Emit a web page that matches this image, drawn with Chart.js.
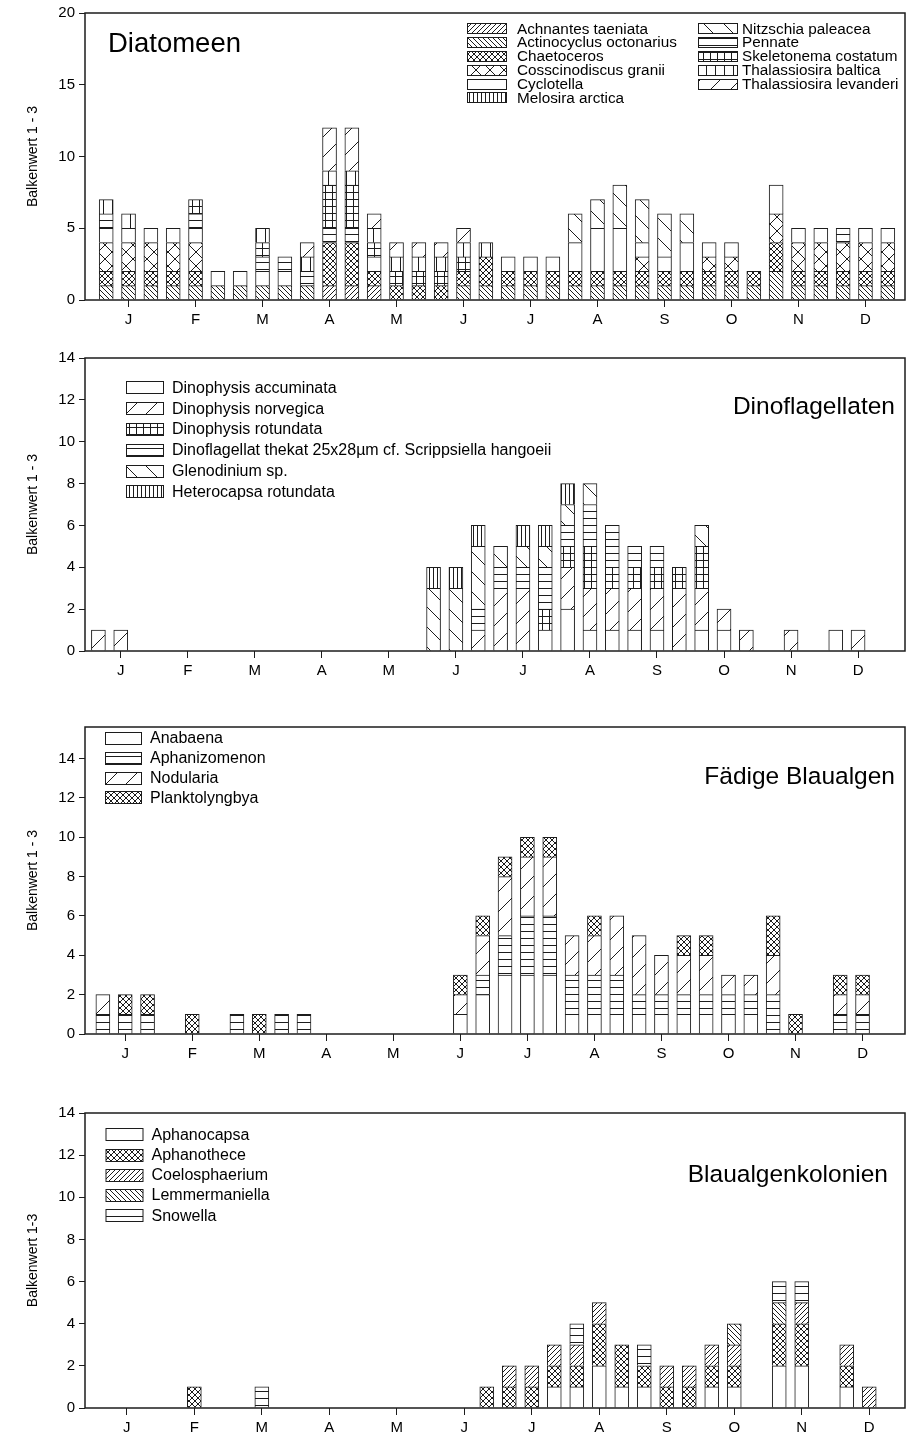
<!DOCTYPE html>
<html>
<head>
<meta charset="utf-8">
<script src="https://cdn.jsdelivr.net/npm/chart.js@4.4.1/dist/chart.umd.min.js"></script>
<style>
  html, body { margin: 0; padding: 0; background: #fff; }
  #wrap { position: relative; width: 906px; height: 1441px; }
  .panel { position: absolute; left: 0; width: 906px; }
</style>
</head>
<body>
<div id="wrap">
  <div class="panel" style="top:0;height:340px"><canvas id="diatomeen"></canvas></div>
  <div class="panel" style="top:340px;height:350px"><canvas id="dino"></canvas></div>
  <div class="panel" style="top:690px;height:390px"><canvas id="faedig"></canvas></div>
  <div class="panel" style="top:1080px;height:361px"><canvas id="kolonien"></canvas></div>
</div>
<script>
// 36 sampling slots per year, three per month; month letter sits on the middle slot
const months = ['J', 'F', 'M', 'A', 'M', 'J', 'J', 'A', 'S', 'O', 'N', 'D'];
const monthTicks = [1, 4, 7, 10, 13, 16, 19, 22, 25, 28, 31, 34];
const slots = Array.from({ length: 36 }, (_, i) => i);

// --- Diatomeen ---
const achnantes      = [0,0,0,0,0,0,0,0,0,0,1,1,1,0,0,0,0,0,0,0,0,0,0,0,0,0,0,0,0,0,0,0,0,0,0,0];
const actinocyclus   = [1,1,1,1,1,1,1,1,1,1,0,0,0,0,0,0,1,1,1,1,1,1,1,1,1,1,1,1,1,1,2,1,1,1,1,1];
const chaetoceros    = [1,1,1,1,1,0,0,0,0,0,3,3,1,1,1,1,1,2,1,1,1,1,1,1,1,1,1,1,1,1,2,1,1,1,1,1];
const cosscinodiscus = [2,2,2,2,2,0,0,0,0,0,0,0,0,0,0,0,0,0,0,0,0,0,0,0,1,0,0,1,1,0,2,2,2,2,2,2];
const cyclotella     = [1,1,1,1,1,1,1,1,1,0,0,0,1,0,0,0,0,0,1,1,1,2,3,3,1,1,2,1,1,0,2,1,1,0,1,1];
const melosira       = [0,0,0,0,0,0,0,0,0,0,0,0,0,0,0,0,0,0,0,0,0,0,0,0,0,0,0,0,0,0,0,0,0,0,0,0];
const nitzschia      = [0,0,0,0,0,0,0,0,0,0,0,0,0,0,0,0,0,0,0,0,0,2,2,3,3,3,2,0,0,0,0,0,0,0,0,0];
const pennate        = [1,0,0,0,1,0,0,1,1,1,1,1,0,0,0,0,0,0,0,0,0,0,0,0,0,0,0,0,0,0,0,0,0,1,0,0];
const skeletonema    = [0,0,0,0,1,0,0,1,0,0,3,3,1,1,1,1,1,0,0,0,0,0,0,0,0,0,0,0,0,0,0,0,0,0,0,0];
const thBaltica      = [1,1,0,0,0,0,0,1,0,1,1,1,1,1,1,1,1,1,0,0,0,0,0,0,0,0,0,0,0,0,0,0,0,0,0,0];
const thLevanderi    = [0,0,0,0,0,0,0,0,0,1,3,3,1,1,1,1,1,0,0,0,0,0,0,0,0,0,0,0,0,0,0,0,0,0,0,0];

// --- Dinoflagellaten ---
const dAccuminata = [0,0,0,0,0,0,0,0,0,0,0,0,0,0,0,0,0,0,0,0,1,2,1,1,1,1,0,1,1,0,0,0,0,1,0,0];
const dNorvegica  = [1,1,0,0,0,0,0,0,0,0,0,0,0,0,0,0,0,1,3,3,0,2,2,2,2,2,3,2,1,1,0,1,0,0,1,0];
const dRotundata  = [0,0,0,0,0,0,0,0,0,0,0,0,0,0,0,0,0,0,0,0,1,1,2,1,1,1,1,2,0,0,0,0,0,0,0,0];
const thekat      = [0,0,0,0,0,0,0,0,0,0,0,0,0,0,0,0,0,1,1,1,2,1,2,2,1,1,0,0,0,0,0,0,0,0,0,0];
const glenodinium = [0,0,0,0,0,0,0,0,0,0,0,0,0,0,0,3,3,3,1,1,1,1,1,0,0,0,0,1,0,0,0,0,0,0,0,0];
const heterocapsa = [0,0,0,0,0,0,0,0,0,0,0,0,0,0,0,1,1,1,0,1,1,1,0,0,0,0,0,0,0,0,0,0,0,0,0,0];

// --- Fädige Blaualgen ---
const anabaena       = [0,0,0,0,0,0,0,0,0,0,0,0,0,0,0,0,1,2,3,3,3,1,1,1,1,1,1,1,1,1,0,0,0,0,0,0];
const aphanizomenon  = [1,1,1,0,0,0,1,0,1,1,0,0,0,0,0,0,0,1,2,3,3,2,2,2,1,1,1,1,1,1,2,0,0,1,1,0];
const nodularia      = [1,0,0,0,0,0,0,0,0,0,0,0,0,0,0,0,1,2,3,3,3,2,2,3,3,2,2,2,1,1,2,0,0,1,1,0];
const planktolyngbya = [0,1,1,0,1,0,0,1,0,0,0,0,0,0,0,0,1,1,1,1,1,0,1,0,0,0,1,1,0,0,2,1,0,1,1,0];

// --- Blaualgenkolonien ---
const aphanocapsa    = [0,0,0,0,0,0,0,0,0,0,0,0,0,0,0,0,0,0,0,0,1,1,2,1,1,0,0,1,1,0,2,2,0,1,0,0];
const aphanothece    = [0,0,0,0,1,0,0,0,0,0,0,0,0,0,0,0,0,1,1,1,1,1,2,2,1,1,1,1,1,0,2,2,0,1,0,0];
const coelosphaerium = [0,0,0,0,0,0,0,0,0,0,0,0,0,0,0,0,0,0,1,1,1,1,1,0,0,1,1,1,1,0,0,1,0,1,1,0];
const lemmermaniella = [0,0,0,0,0,0,0,0,0,0,0,0,0,0,0,0,0,0,0,0,0,0,0,0,0,0,0,0,1,0,1,0,0,0,0,0];
const snowella       = [0,0,0,0,0,0,0,1,0,0,0,0,0,0,0,0,0,0,0,0,0,1,0,0,1,0,0,0,0,0,1,1,0,0,0,0];

const INK = '#1c1c1c';
const FONT = '"Liberation Sans", Arial, Helvetica, sans-serif';

// hatch fills as repeating canvas patterns
function tile(size, draw) {
  const c = document.createElement('canvas');
  c.width = size; c.height = size;
  const g = c.getContext('2d');
  g.fillStyle = '#fff';
  g.fillRect(0, 0, size, size);
  g.strokeStyle = INK; g.fillStyle = INK; g.lineWidth = 1;
  draw(g, size);
  return g.createPattern(c, 'repeat');
}
function slash(g, s) {
  g.beginPath();
  g.moveTo(-1, s + 1); g.lineTo(s + 1, -1);
  g.moveTo(-1, 1); g.lineTo(1, -1);
  g.moveTo(s - 1, s + 1); g.lineTo(s + 1, s - 1);
  g.stroke();
}
function back(g, s) {
  g.beginPath();
  g.moveTo(-1, -1); g.lineTo(s + 1, s + 1);
  g.moveTo(s - 1, -1); g.lineTo(s + 1, 1);
  g.moveTo(-1, s - 1); g.lineTo(1, s + 1);
  g.stroke();
}
const HATCH = {
  blank: '#fff',
  slashDense: tile(5, slash),
  backDense: tile(5, back),
  crossDense: tile(6, (g, s) => { slash(g, s); back(g, s); }),
  crossSparse: tile(14, (g, s) => { slash(g, s); back(g, s); }),
  slashSparse: tile(20, slash),
  backSparse: tile(20, back),
  horiz: tile(7, (g, s) => g.fillRect(0, 3, s, 1)),
  grid: tile(7, (g, s) => { g.fillRect(0, 3, s, 1); g.fillRect(3, 0, 1, s); }),
  vertDense: tile(4, (g, s) => g.fillRect(1, 0, 1, s)),
  vertSparse: tile(9, (g, s) => g.fillRect(4, 0, 1, s))
};

// legend boxes and panel caption drawn inside the plot frame
const panelDecor = {
  id: 'panelDecor',
  afterDraw(chart, args, opts) {
    const { ctx, chartArea: a } = chart;
    ctx.save();
    ctx.strokeStyle = INK;
    ctx.lineWidth = 1.5;
    ctx.strokeRect(a.left, a.top, a.right - a.left, a.bottom - a.top);

    const lg = opts.legend;
    ctx.font = `${lg.fontSize}px ${FONT}`;
    ctx.textBaseline = 'middle';
    ctx.textAlign = 'left';
    lg.columns.forEach(col => {
      col.items.forEach((idx, r) => {
        const ds = chart.data.datasets[idx];
        const cy = col.y + r * lg.rowGap;
        const y0 = Math.round(cy - lg.boxH / 2) + 0.5;
        ctx.fillStyle = ds.backgroundColor;
        ctx.fillRect(col.x + 0.5, y0, lg.boxW, lg.boxH);
        ctx.lineWidth = 1;
        ctx.strokeStyle = INK;
        ctx.strokeRect(col.x + 0.5, y0, lg.boxW, lg.boxH);
        ctx.fillStyle = '#000';
        ctx.fillText(ds.label, col.x + lg.boxW + col.gap, cy + 1);
      });
    });

    const t = opts.caption;
    ctx.font = `${t.size}px ${FONT}`;
    ctx.textAlign = t.align;
    ctx.textBaseline = 'alphabetic';
    ctx.fillStyle = '#000';
    ctx.fillText(t.text, t.x, t.y);
    ctx.restore();
  }
};

function buildPanel(id, p) {
  return new Chart(document.getElementById(id), {
    type: 'bar',
    data: {
      labels: slots,
      datasets: p.series.map(s => ({
        label: s.name,
        data: s.values.map(v => v || null),
        backgroundColor: HATCH[s.hatch],
        borderColor: INK,
        borderWidth: 1,
        borderSkipped: 'start',
        barThickness: 14
      }))
    },
    plugins: [panelDecor],
    options: {
      responsive: true,
      maintainAspectRatio: false,
      animation: false,
      devicePixelRatio: 1,
      layout: { padding: { top: p.top, right: 1, left: 0, bottom: 0 } },
      plugins: {
        legend: { display: false },
        tooltip: { enabled: false },
        panelDecor: { legend: p.legend, caption: p.caption }
      },
      scales: {
        x: {
          type: 'linear',
          stacked: true,
          min: p.xMin,
          max: p.xMax,
          offset: false,
          grid: { display: true, offset: false, drawOnChartArea: false, drawTicks: true, tickLength: 7, tickColor: INK, tickWidth: 1 },
          border: { display: false },
          afterBuildTicks: s => { s.ticks = monthTicks.map(v => ({ value: v })); },
          afterFit: s => { s.height = p.xHeight; },
          ticks: {
            autoSkip: false, maxRotation: 0, padding: 4, color: '#000',
            font: { family: FONT, size: 15 },
            callback: (v, i) => months[i]
          }
        },
        y: {
          stacked: true,
          min: 0,
          max: p.yMax,
          grid: { display: true, drawOnChartArea: false, drawTicks: true, tickLength: 6, tickColor: INK, tickWidth: 1 },
          border: { display: false },
          afterBuildTicks: s => { s.ticks = p.yTicks.map(v => ({ value: v })); },
          afterFit: s => { s.width = 85; },
          ticks: { padding: 4, color: '#000', font: { family: FONT, size: 15 } },
          title: {
            display: true, text: p.yTitle, color: '#000',
            font: { family: FONT, size: 14 },
            padding: { top: 25, bottom: 0 }
          }
        }
      }
    }
  });
}

buildPanel('diatomeen', {
  top: 12, xHeight: 40, xMin: -0.95, xMax: 35.77,
  yMax: 20, yTicks: [0, 5, 10, 15, 20], yTitle: 'Balkenwert 1 - 3',
  series: [
    { name: 'Achnantes taeniata', values: achnantes, hatch: 'slashDense' },
    { name: 'Actinocyclus octonarius', values: actinocyclus, hatch: 'backDense' },
    { name: 'Chaetoceros', values: chaetoceros, hatch: 'crossDense' },
    { name: 'Cosscinodiscus granii', values: cosscinodiscus, hatch: 'crossSparse' },
    { name: 'Cyclotella', values: cyclotella, hatch: 'blank' },
    { name: 'Melosira arctica', values: melosira, hatch: 'vertDense' },
    { name: 'Nitzschia paleacea', values: nitzschia, hatch: 'backSparse' },
    { name: 'Pennate', values: pennate, hatch: 'horiz' },
    { name: 'Skeletonema costatum', values: skeletonema, hatch: 'grid' },
    { name: 'Thalassiosira baltica', values: thBaltica, hatch: 'vertSparse' },
    { name: 'Thalassiosira levanderi', values: thLevanderi, hatch: 'slashSparse' }
  ],
  legend: {
    fontSize: 15.3, boxW: 39, boxH: 10, rowGap: 13.8,
    columns: [
      { x: 467, y: 28.3, gap: 11, items: [0, 1, 2, 3, 4, 5] },
      { x: 698, y: 28.3, gap: 5, items: [6, 7, 8, 9, 10] }
    ]
  },
  caption: { text: 'Diatomeen', x: 108, y: 52, size: 27.5, align: 'left' }
});

buildPanel('dino', {
  top: 18, xHeight: 39, xMin: -0.6, xMax: 36.1,
  yMax: 14, yTicks: [0, 2, 4, 6, 8, 10, 12, 14], yTitle: 'Balkenwert 1 - 3',
  series: [
    { name: 'Dinophysis accuminata', values: dAccuminata, hatch: 'blank' },
    { name: 'Dinophysis norvegica', values: dNorvegica, hatch: 'slashSparse' },
    { name: 'Dinophysis rotundata', values: dRotundata, hatch: 'grid' },
    { name: 'Dinoflagellat thekat 25x28µm cf. Scrippsiella hangoeii', values: thekat, hatch: 'horiz' },
    { name: 'Glenodinium sp.', values: glenodinium, hatch: 'backSparse' },
    { name: 'Heterocapsa rotundata', values: heterocapsa, hatch: 'vertDense' }
  ],
  legend: {
    fontSize: 16, boxW: 37, boxH: 12, rowGap: 20.8,
    columns: [{ x: 126, y: 47.3, gap: 9, items: [0, 1, 2, 3, 4, 5] }]
  },
  caption: { text: 'Dinoflagellaten', x: 895, y: 74, size: 24.5, align: 'right' }
});

buildPanel('faedig', {
  top: 37, xHeight: 46, xMin: -0.8, xMax: 35.9,
  yMax: 15.6, yTicks: [0, 2, 4, 6, 8, 10, 12, 14], yTitle: 'Balkenwert 1 - 3',
  series: [
    { name: 'Anabaena', values: anabaena, hatch: 'blank' },
    { name: 'Aphanizomenon', values: aphanizomenon, hatch: 'horiz' },
    { name: 'Nodularia', values: nodularia, hatch: 'slashSparse' },
    { name: 'Planktolyngbya', values: planktolyngbya, hatch: 'crossDense' }
  ],
  legend: {
    fontSize: 16, boxW: 36, boxH: 12, rowGap: 19.8,
    columns: [{ x: 105, y: 48, gap: 9, items: [0, 1, 2, 3] }]
  },
  caption: { text: 'Fädige Blaualgen', x: 895, y: 94, size: 24.5, align: 'right' }
});

buildPanel('kolonien', {
  top: 33, xHeight: 33, xMin: -0.86, xMax: 35.59,
  yMax: 14, yTicks: [0, 2, 4, 6, 8, 10, 12, 14], yTitle: 'Balkenwert 1-3',
  series: [
    { name: 'Aphanocapsa', values: aphanocapsa, hatch: 'blank' },
    { name: 'Aphanothece', values: aphanothece, hatch: 'crossDense' },
    { name: 'Coelosphaerium', values: coelosphaerium, hatch: 'slashDense' },
    { name: 'Lemmermaniella', values: lemmermaniella, hatch: 'backDense' },
    { name: 'Snowella', values: snowella, hatch: 'horiz' }
  ],
  legend: {
    fontSize: 16, boxW: 37, boxH: 12, rowGap: 20.2,
    columns: [{ x: 105.5, y: 54.3, gap: 9, items: [0, 1, 2, 3, 4] }]
  },
  caption: { text: 'Blaualgenkolonien', x: 888, y: 102, size: 24.5, align: 'right' }
});
</script>
</body>
</html>
